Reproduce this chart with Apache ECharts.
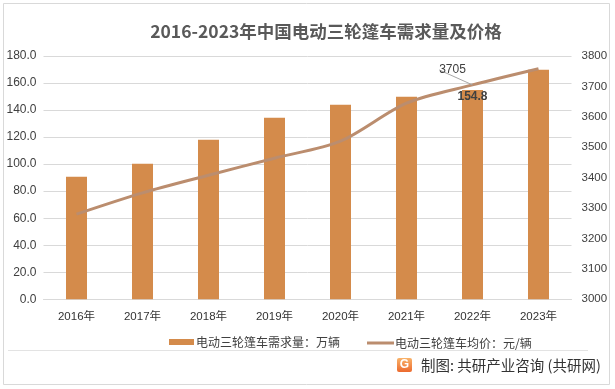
<!DOCTYPE html>
<html>
<head>
<meta charset="utf-8">
<script src="https://cdn.jsdelivr.net/npm/echarts@6/dist/echarts.min.js"></script>
<style>html,body{margin:0;padding:0;background:#fff;}#c{width:615px;height:389px;}</style>
</head>
<body>
<div id="c"></div>
<script>
var categories = ['2016年','2017年','2018年','2019年','2020年','2021年','2022年','2023年'];
var demand = [90.6, 100.2, 118.0, 134.3, 143.9, 149.9, 154.8, 169.9];
var price = [3280, 3350, 3408, 3464, 3520, 3645, 3705, 3758];
var leftTicks = {min: 0, max: 180, interval: 20};
var rightTicks = {min: 3000, max: 3800, interval: 100};
var labelIndex = 6;

var FONT = '"Liberation Sans","Noto Sans CJK SC",sans-serif';
var chart = echarts.init(document.getElementById('c'), null, {renderer: 'canvas'});
chart.setOption({
  backgroundColor: '#ffffff',
  animation: false,
  title: {
    text: '2016-2023年中国电动三轮篷车需求量及价格',
    left: 321, top: 18, textAlign: 'center',
    textStyle: {fontFamily: '"Noto Sans CJK SC",sans-serif', fontSize: 17.5, fontWeight: 'bold', color: '#595959'}
  },
  grid: {left: 43.5, right: 43.5, top: 56, bottom: 89.7, containLabel: false},
  legend: [{
    data: ['电动三轮篷车需求量：万辆'],
    left: 164, top: 331, itemWidth: 25, itemHeight: 6, icon: 'rect',
    textStyle: {fontFamily: '"Noto Sans CJK SC",sans-serif', fontSize: 12, color: '#404040', padding: [0,0,0,-3]}
  }, {
    data: [{name: '电动三轮篷车均价：元/辆', icon: 'rect'}],
    left: 362, top: 332, itemWidth: 27, itemHeight: 3,
    textStyle: {fontFamily: '"Noto Sans CJK SC",sans-serif', fontSize: 12, color: '#404040', padding: [0,0,0,-4]}
  }],
  xAxis: {
    type: 'category', data: categories,
    axisTick: {show: false},
    axisLine: {show: true, lineStyle: {color: '#d9d9d9', width: 1}},
    axisLabel: {fontFamily: FONT, fontSize: 11.5, color: '#333', margin: 12}
  },
  yAxis: [{
    type: 'value', min: leftTicks.min, max: leftTicks.max, interval: leftTicks.interval,
    axisLine: {show: false}, axisTick: {show: false},
    splitLine: {lineStyle: {color: '#d9d9d9', width: 1}},
    axisLabel: {fontFamily: FONT, fontSize: 12, color: '#404040', margin: 7,
      formatter: function (v) { return v.toFixed(1); }}
  }, {
    type: 'value', min: rightTicks.min, max: rightTicks.max, interval: rightTicks.interval,
    axisLine: {show: false}, axisTick: {show: false}, splitLine: {show: false},
    axisLabel: {fontFamily: FONT, fontSize: 11.5, color: '#404040', margin: 10,
      formatter: function (v) { return String(v); }}
  }],
  series: [{
    name: '电动三轮篷车需求量：万辆', type: 'bar', yAxisIndex: 0,
    barWidth: 21,
    itemStyle: {color: '#D48B4B'},
    data: demand.map(function (v, i) {
      return i === labelIndex ? {value: v, label: {show: true}} : v;
    }),
    label: {show: false, position: 'insideTop', distance: 1, fontFamily: FONT, fontSize: 12, fontWeight: 'bold', color: '#404040'}
  }, {
    name: '电动三轮篷车均价：元/辆', type: 'line', yAxisIndex: 1,
    smooth: 0.3, symbol: 'circle', symbolSize: 0, showSymbol: true,
    lineStyle: {color: '#BB8D6E', width: 3},
    itemStyle: {color: '#BB8D6E'},
    data: price.map(function (v, i) {
      return i === labelIndex ? {value: v, label: {show: true}} : v;
    }),
    label: {show: false, position: 'top', fontFamily: FONT, fontSize: 12, color: '#404040'},
    labelLayout: {dx: -20, dy: -4},
    labelLine: {show: true, lineStyle: {color: '#a6a6a6', width: 1}}
  }],
  graphic: [{
    type: 'rect', shape: {x: 3.5, y: 3.5, width: 606, height: 381},
    style: {fill: 'none', stroke: '#d9d9d9', lineWidth: 1}, silent: true
  }, {
    type: 'line', shape: {x1: 8, y1: 350.5, x2: 588, y2: 350.5},
    style: {stroke: '#e3e3e3', lineWidth: 1}, silent: true
  }, {
    type: 'rect', shape: {x: 397, y: 358, width: 15, height: 14, r: 2},
    style: {fill: new echarts.graphic.LinearGradient(0, 0, 0, 1, [{offset: 0, color: '#f9b36a'}, {offset: 1, color: '#ec6a2e'}])}
  }, {
    type: 'text', x: 404.5, y: 365,
    style: {text: 'G', fill: '#fff', font: 'bold 12px "Liberation Sans",sans-serif', textAlign: 'center', textVerticalAlign: 'middle'}
  }, {
    type: 'text', x: 421, y: 365,
    style: {text: '制图: 共研产业咨询 (共研网)', fill: '#333', font: '14.5px "Noto Sans CJK SC",sans-serif', textVerticalAlign: 'middle'}
  }]
});
</script>
</body>
</html>
